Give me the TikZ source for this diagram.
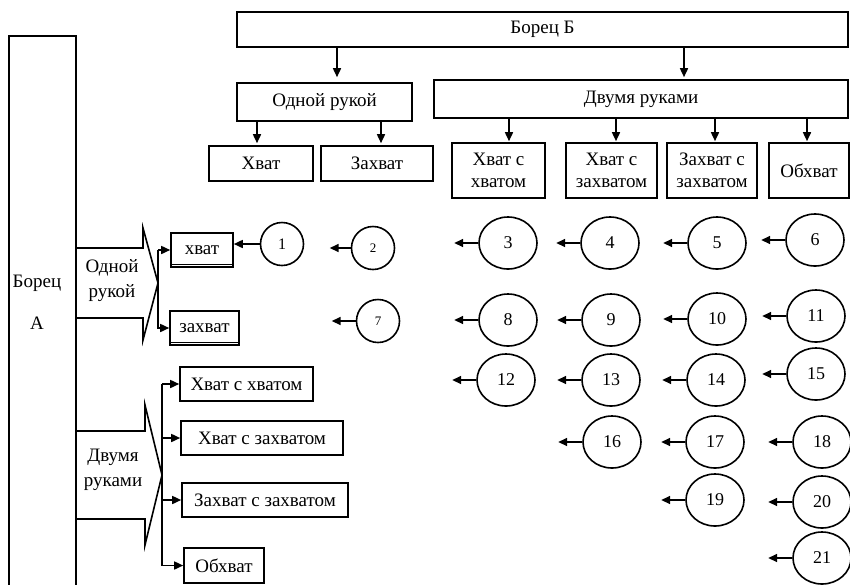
\documentclass[tikz,border=0pt]{standalone}
\usepackage{fontspec}
\setmainfont{Liberation Serif}
\usetikzlibrary{arrows.meta, shapes.geometric}

\begin{document}
\begin{tikzpicture}[x=1pt, y=-1pt, >={Triangle[length=9pt,width=8pt]}, line width=1.6pt,
    box/.style={draw, rectangle, inner sep=0pt, align=center, font=\fontsize{19}{22}\selectfont},
    lbl/.style={align=center, font=\fontsize{19}{25}\selectfont},
    bigc/.style={draw, ellipse, minimum width=58pt, minimum height=52pt, inner sep=0pt, font=\fontsize{18}{18}\selectfont},
    smallc/.style={draw, circle, minimum size=43pt, inner sep=0pt, font=\fontsize{14}{14}\selectfont}]

\useasboundingbox (0,0) rectangle (850,584);

% === Борец Б ===
\node[box, minimum width=611pt, minimum height=35pt] (bb) at (542.5,29.5) {Борец Б};
\node[box, minimum width=175pt, minimum height=38pt] (odn) at (324.5,102) {Одной рукой};
\node[box, minimum width=414pt, minimum height=38pt] (dv) at (641,99) {Двумя руками};

\node[box, minimum width=104pt, minimum height=35pt] (hvB) at (261,163.5) {Хват};
\node[box, minimum width=112pt, minimum height=35pt] (zhB) at (377,163.5) {Захват};
\node[box, minimum width=93pt, minimum height=55pt] (hhB) at (498.5,170.5) {Хват с\\хватом};
\node[box, minimum width=91pt, minimum height=55pt] (hzB) at (611.5,170.5) {Хват с\\захватом};
\node[box, minimum width=90pt, minimum height=55pt] (zzB) at (712,170.5) {Захват с\\захватом};
\node[box, minimum width=80pt, minimum height=55pt] (obB) at (809,170.5) {\raisebox{-7pt}{Обхват}};

\draw[->, shorten >=5pt] ([xshift=12.5pt]odn.north |- bb.south) -- ([xshift=12.5pt]odn.north);
\draw[->, shorten >=2pt] ([xshift=43pt]dv.north |- bb.south) -- ([xshift=43pt]dv.north);
\foreach \c/\dx in {hvB/-4, zhB/4} {
    \draw[->, shorten >=2pt] ([xshift=\dx pt]\c.north |- odn.south) -- ([xshift=\dx pt]\c.north);
}
\foreach \c/\dx in {hhB/10.5, hzB/4.5, zzB/3, obB/-2} {
    \draw[->, shorten >=1pt] ([xshift=\dx pt]\c.north |- dv.south) -- ([xshift=\dx pt]\c.north);
}

% === Борец А ===
\node[draw, minimum width=67pt, minimum height=570pt, inner sep=0pt] (ba) at (42.5,321) {};
\node[lbl] (baT) at (37,283) {Борец};
\node[lbl] (baL) at (37,323) {А};

% Одной рукой
\coordinate (t1) at (158,283);
\draw (76,248) -- (143,248) -- (143,228) -- (t1) -- (143,340) -- (143,318) -- (76,318);
\node[lbl] (odnA) at (112,281) {Одной\\рукой};

\node[box, minimum width=62pt, minimum height=34pt] (hvA) at (202,250) {хват};
\node[box, minimum width=69pt, minimum height=34pt] (zhA) at (204.5,328) {захват};
\foreach \b in {hvA, zhA} {
    \draw[line width=0.6pt] ([yshift=3.5pt]\b.south west) -- ([yshift=3.5pt]\b.south east);
}
\draw[->] (t1 |- hvA.west) -- (hvA.west);
\draw[->] (t1 |- hvA.west) -- (t1 |- zhA.west) -- (zhA.west);

% Двумя руками
\coordinate (t2) at (162,475);
\draw (76,431) -- (145,431) -- (145,405) -- (t2) -- (145,545) -- (145,519) -- (76,519);
\node[lbl] (dvA) at (113,470) {Двумя\\руками};

\node[box, minimum width=133pt, minimum height=34pt] (hhA) at (246.5,384) {Хват с хватом};
\node[box, minimum width=162pt, minimum height=34pt] (hzA) at (262,438) {Хват с захватом};
\node[box, minimum width=166pt, minimum height=34pt] (zzA) at (265,500) {Захват с захватом};
\node[box, minimum width=80pt, minimum height=35pt] (obA) at (224,565.5) {Обхват};

\draw (t2 |- hhA.west) -- (t2 |- obA.west);
\foreach \b in {hhA, hzA, zzA, obA} {
    \draw[->] (t2 |- \b.west) -- (\b.west);
}

% === Номера ===
\node[smallc, font=\fontsize{16}{16}\selectfont] (c1) at (282,244) {1};
\node[smallc, font=\fontsize{13}{13}\selectfont] (c2) at (373,248) {2};
\node[smallc, font=\fontsize{13}{13}\selectfont] (c7) at (378,321) {7};
\draw[->] (c1.west) -- (c1.west -| hvA.east);
\draw[->] (c2.west) -- ++(-21,0);
\draw[->] (c7.west) -- ++(-24,0);

\foreach \n/\x/\y in {3/508/243, 4/610/243, 5/717/243, 6/815/240,
    8/508/320, 9/611/320, 10/717/319, 11/816/316,
    12/506/380, 13/611/380, 14/716/380, 15/816/374,
    16/612/442, 17/715/442, 18/822/442,
    19/715/500, 20/822/502, 21/822/558} {
    \node[bigc] (c\n) at (\x,\y) {\n};
    \draw[->] (c\n.west) -- ++(-24,0);
}

\end{tikzpicture}
\end{document}
